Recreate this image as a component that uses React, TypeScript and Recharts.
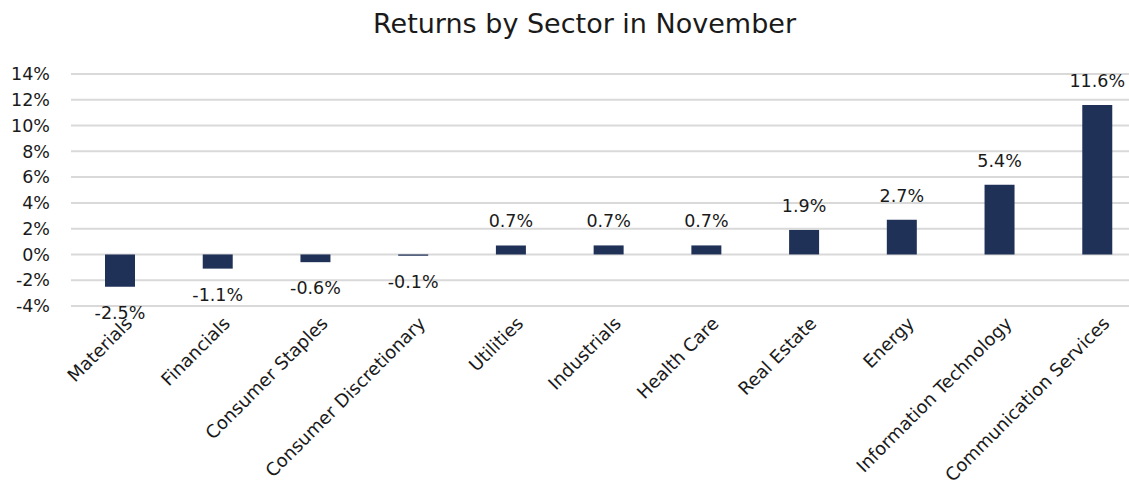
import { BarChart, Bar, XAxis, YAxis, CartesianGrid, LabelList } from "recharts";

const sectors = [
  "Materials",
  "Financials",
  "Consumer Staples",
  "Consumer Discretionary",
  "Utilities",
  "Industrials",
  "Health Care",
  "Real Estate",
  "Energy",
  "Information Technology",
  "Communication Services",
];
const returns = [-2.5, -1.1, -0.6, -0.1, 0.7, 0.7, 0.7, 1.9, 2.7, 5.4, 11.6];
const yTicks = [-4, -2, 0, 2, 4, 6, 8, 10, 12, 14];

const data = sectors.map((name, i) => ({ name, value: returns[i] }));

const FONT = "'DejaVu Sans', sans-serif";
const NAVY = "#203158";
const INK = "#1a1a1a";

function CategoryTick(props: any) {
  const { x, y, payload } = props;
  const ax = x + 9;
  const ay = y + 6;
  return (
    <text
      x={ax}
      y={ay}
      transform={`rotate(-45, ${ax}, ${ay})`}
      textAnchor="end"
      dominantBaseline="central"
      fontSize={18}
      fontFamily={FONT}
      fill={INK}
    >
      {payload.value}
    </text>
  );
}

function ValueLabel(props: any) {
  const { x, y, width, height, value } = props;
  const top = Math.min(y, y + height);
  const bottom = Math.max(y, y + height);
  const ly = value >= 0 ? top - 24 : bottom + 26;
  return (
    <text
      x={x + width / 2}
      y={ly}
      textAnchor="middle"
      dominantBaseline="central"
      fontSize={17.5}
      fontFamily={FONT}
      fill={INK}
    >
      {`${value.toFixed(1)}%`}
    </text>
  );
}

export default function App() {
  return (
    <div
      style={{
        position: "absolute",
        left: 0,
        top: 0,
        width: 1129,
        height: 492,
        overflow: "hidden",
        background: "#fff",
      }}
    >
      <div
        style={{
          position: "absolute",
          top: 8,
          left: 0,
          width: 1169,
          textAlign: "center",
          fontFamily: FONT,
          fontSize: 27,
          color: INK,
        }}
      >
        Returns by Sector in November
      </div>
      <BarChart
        width={1146}
        height={492}
        data={data}
        margin={{ top: 74, right: 0, bottom: 0, left: 0 }}
        barSize={30}
      >
        <CartesianGrid vertical={false} stroke="#d9d9d9" strokeWidth={2} />
        <XAxis
          dataKey="name"
          axisLine={false}
          tickLine={false}
          interval={0}
          height={186}
          tick={<CategoryTick />}
        />
        <YAxis
          domain={[-4, 14]}
          ticks={yTicks}
          interval={0}
          axisLine={false}
          tickLine={false}
          tickSize={0}
          tickMargin={21}
          width={71}
          tickFormatter={(v) => `${v}%`}
          tick={{ fontSize: 17.5, fontFamily: FONT, fill: INK }}
        />
        <Bar dataKey="value" fill={NAVY} isAnimationActive={false}>
          <LabelList dataKey="value" content={<ValueLabel />} />
        </Bar>
      </BarChart>
    </div>
  );
}
